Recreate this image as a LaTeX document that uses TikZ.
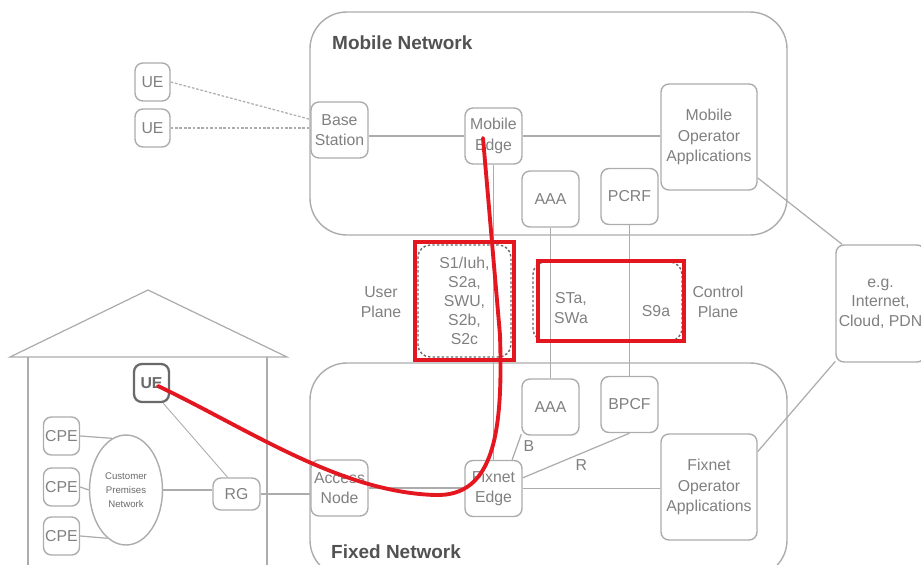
\documentclass[tikz,border=0pt]{standalone}
\usepackage{fontspec}
\setmainfont{Liberation Sans}
\usetikzlibrary{positioning,shapes.geometric,fit}
\definecolor{linegray}{RGB}{172,172,172}
\definecolor{textgray}{RGB}{128,128,128}
\definecolor{titlegray}{RGB}{82,82,82}
\definecolor{dashgray}{RGB}{105,105,105}
\definecolor{markred}{RGB}{228,22,32}

\begin{document}
\begin{tikzpicture}[
    x=0.02cm, y=-0.02cm,
    box/.style={rectangle, draw=linegray, line width=0.8pt, rounded corners=4.5pt,
                text=textgray, font=\fontsize{9}{11.5}\selectfont, align=center, inner sep=1pt},
    unit/.style={box, minimum width=1.14cm, minimum height=1.12cm},
    uebox/.style={box, minimum width=0.7cm, minimum height=0.76cm},
    appbox/.style={box, minimum width=1.92cm, minimum height=2.12cm},
    netbox/.style={draw=linegray, line width=0.8pt, rounded corners=21pt},
    title/.style={anchor=west, text=titlegray, font=\fontsize{10.8}{13}\selectfont\bfseries},
    link/.style={draw=linegray, line width=0.7pt},
    radio/.style={link, dash pattern=on 1.5pt off 1pt},
    iface/.style={box, draw=dashgray, dash pattern=on 1.4pt off 1.2pt, rounded corners=7pt},
    redframe/.style={draw=markred, line width=2.2pt, inner sep=1.2pt},
    flow/.style={draw=markred, line width=2.2pt, line cap=round},
    lbl/.style={text=textgray, font=\fontsize{9}{11}\selectfont, align=center}
]
\useasboundingbox (0,0) rectangle (921,565);
\clip (0,0) rectangle (921,565);

% network areas and house
\draw[netbox] (310,12) rectangle (787,235);
\draw[netbox] (310,363) rectangle (787,577);
\node[title] at (326,43) {Mobile Network};
\node[title] at (325,552) {Fixed Network};
\draw[link] (10,357) -- (148,290) -- (287,357) -- cycle;
\draw[link] (28,357) -- (28,570);
\draw[link] (267,357) -- (267,570);

% mobile side
\node[uebox] (ue1) at (152.5,82) {UE};
\node[uebox] (ue2) at (152.5,128) {UE};
\node[unit] (bs) at (339.5,130) {Base\\Station};
\node[unit] (medge) at (493.5,136) {Mobile\\Edge};
\node[appbox] (moa) at (709,137) {Mobile\\Operator\\Applications};
\node[unit] (aaam) at (550.5,199) {AAA};
\node[unit] (pcrf) at (629.5,196.5) {PCRF};

% interfaces
\node[iface, minimum width=1.86cm, minimum height=2.24cm, font=\fontsize{9}{10.8}\selectfont]
    (upbox) at (464.5,301) {S1/Iuh,\\S2a,\\SWU,\\S2b,\\S2c};
\node[iface, minimum width=2.98cm, minimum height=1.58cm] (cpbox) at (607.5,301.5) {};
\node[lbl] (sta) at (571,308) {STa,\\SWa};
\node[lbl] (s9a) at (656,311) {S9a};
\node[lbl] (uplane) at (381,302) {User\\Plane};
\node[lbl] (cplane) at (718,302) {Control\\Plane};
\node[box, minimum width=1.78cm, minimum height=2.34cm, font=\fontsize{9}{11}\selectfont]
    (eg) at (880.5,303.5) {e.g.\\Internet,\\Cloud, PDN};

% fixed side
\node[unit] (aaaf) at (550.5,407) {AAA};
\node[unit] (bpcf) at (629.5,404.5) {BPCF};
\node[unit] (an) at (339.5,488) {Access\\Node};
\node[unit] (fedge) at (493.5,488.5) {Fixnet\\Edge};
\node[appbox] (foa) at (709,487) {Fixnet\\Operator\\Applications};

% customer premises
\node[uebox, draw=dashgray, line width=1.3pt, text=dashgray, font=\fontsize{9}{11}\selectfont\bfseries]
    (ueh) at (151.5,383) {UE};
\node[box, minimum width=0.94cm, minimum height=0.64cm] (rg) at (236.5,494) {RG};
\node[ellipse, draw=linegray, line width=0.8pt, minimum width=1.46cm, minimum height=2.2cm,
      inner sep=0pt, text=dashgray, align=center, font=\fontsize{5.5}{8}\selectfont]
    (cpn) at (126,490) {Customer\\Premises\\Network};
\node[uebox] (cpe1) at (61.5,436) {CPE};
\node[uebox] (cpe2) at (61.5,487) {CPE};
\node[uebox] (cpe3) at (61.5,536) {CPE};

% links
\draw[radio] (ue1.east) -- (bs.160);
\draw[radio] (ue2.east) -- (ue2.east -| bs.west);
\draw[link] (medge.west -| bs.east) -- (medge.west);
\draw[link] (medge.east) -- (medge.east -| moa.west);
\draw[link] (medge.south) -- (fedge.north);
\draw[link] (aaam.south) -- (aaaf.north);
\draw[link] (pcrf.south) -- (bpcf.north);
\draw[link] (moa.-40) -- (eg.123);
\draw[link] (foa.36) -- (eg.232);
\draw[link] (fedge.57) -- node[right, lbl, pos=0.55] {B} (aaaf.223);
\draw[link] (fedge.20) -- node[below, lbl, pos=0.55] {R} (bpcf.south);
\draw[link] (fedge.east) -- (fedge.east -| foa.west);
\draw[link] (an.east) -- (an.east -| fedge.west);
\draw[link] (rg.east) -- (rg.east -| an.west);
\draw[link, line width=0.5pt] (ueh.-60) -- (rg.118);
\draw[link] (cpn.east) -- (cpn.east -| rg.west);
\draw[link] (cpe1.east) -- (cpn.105);
\draw[link] (cpe2.east) -- (cpn.west);
\draw[link] (cpe3.east) -- (cpn.249);

% highlighted path
\node[redframe, fit=(upbox)] (upmark) {};
\node[redframe, inner sep=0pt, minimum width=2.93cm, minimum height=1.6cm] (cpmark) at (611,301) {};
\coordinate (redstart) at (483,138);
\coordinate (redend) at (158,386);
\draw[flow] (redstart) -- (500,335) .. controls (503,430) and (495,497) .. (435,495)
    .. controls (340,492) and (250,430) .. (redend);
\end{tikzpicture}
\end{document}
